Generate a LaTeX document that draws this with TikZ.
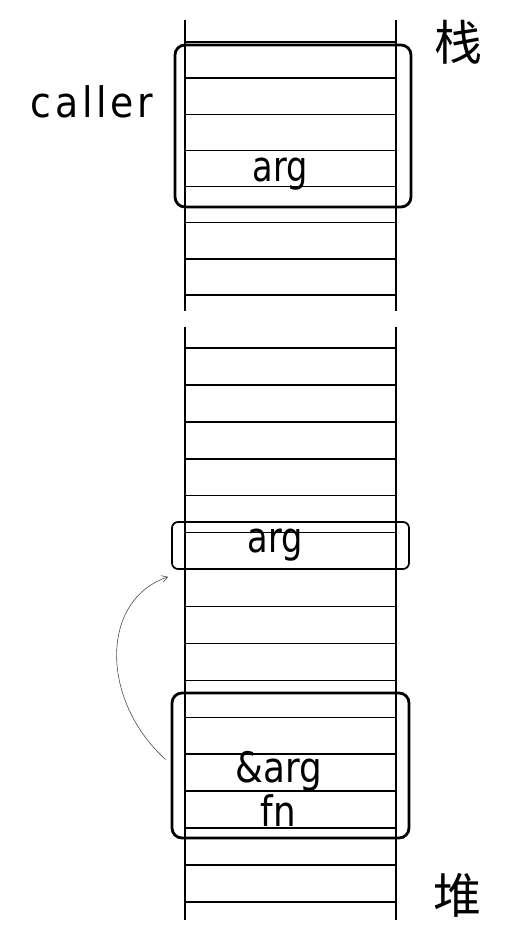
\documentclass[tikz,border=0pt]{standalone}
\usepackage{fontspec}
\setmainfont{DejaVu Sans}
\newfontfamily\cjk{Noto Sans CJK SC}
\usetikzlibrary{arrows.meta}
\newcommand{\narrowtxt}[2]{\scalebox{#1}[1]{#2}}
\begin{document}
\begin{tikzpicture}[x=1pt,y=-1pt,
  rail/.style={line width=1.5pt},
  cellline/.style={line width=1.5pt},
  thickbox/.style={draw, line width=2.8pt, rounded corners=10pt, inner sep=0pt},
  thinbox/.style={draw, line width=1.7pt, rounded corners=6pt, inner sep=0pt},
  lbl/.style={inner sep=0pt, anchor=base, font=\fontsize{42}{44}\selectfont},
  hanzi/.style={inner sep=0pt, font=\cjk\fontsize{48}{50}\selectfont},
  link/.style={line width=0.6pt, draw=black!70, -{Straight Barb[length=6pt,width=7pt]}}]
\useasboundingbox (0,0) rectangle (509,928);
% upper stack
\draw[rail] (185,20) -- (185,311);
\draw[rail] (396,20) -- (396,311);
\foreach \i in {0,...,7} {
  \draw[cellline] (185,{42+36.14*\i}) -- (396,{42+36.14*\i});
}
% lower stack
\draw[rail] (185,327) -- (185,920);
\draw[rail] (396,327) -- (396,920);
\foreach \i in {0,...,15} {
  \draw[cellline] (185,{348+36.93*\i}) -- (396,{348+36.93*\i});
}
% boxes
\node[thickbox, minimum width=236pt, minimum height=162pt] (callerbox) at (293,126) {};
\node[thinbox, minimum width=237pt, minimum height=47pt] (argbox) at (290.5,545.5) {};
\node[thickbox, minimum width=237pt, minimum height=145pt] (fnbox) at (290.5,765.5) {};
% texts
\node[lbl] (caller) at (92,118) {\narrowtxt{0.9}{\addfontfeature{LetterSpace=10}caller}};
\node[lbl] (arg1) at (280,182) {\narrowtxt{0.8}{arg}};
\node[lbl] (arg2) at (275,552) {\narrowtxt{0.8}{arg}};
\node[lbl] (refarg) at (278.5,782) {\narrowtxt{0.85}{\&arg}};
\node[lbl] (fn) at (278.5,826) {\narrowtxt{0.85}{fn}};
\node[hanzi] (zhan) at (458,42) {栈};
\node[hanzi] (dui) at (457,895) {堆};
% connector
\coordinate (from) at ([xshift=-5pt,yshift=6pt]fnbox.west);
\coordinate (to) at ([xshift=-3pt,yshift=-7pt]argbox.south west);
\draw[link] (from) .. controls (100,700) and (100,600) .. (to);
\end{tikzpicture}
\end{document}
